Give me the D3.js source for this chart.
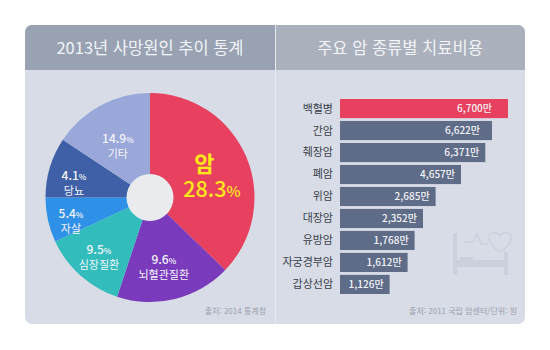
<!DOCTYPE html>
<html lang="ko">
<head>
<meta charset="utf-8">
<script src="https://cdn.jsdelivr.net/npm/d3@7"></script>
<style>
    html, body { margin: 0; padding: 0; background: #fff; }
    svg { display: block; }
    text { font-family: "Noto Sans CJK KR", "Noto Sans", sans-serif; }
</style>
</head>
<body>
<div id="chart"></div>
<script>
// Left panel: causes of death
const causes = ["암", "뇌혈관질환", "심장질환", "자살", "당뇨", "기타"];
const causeRates = ["28.3", "9.6", "9.5", "5.4", "4.1", "14.9"];
// The slices are not drawn to the printed rates, so these are the shares as read off the picture
const causeDrawnShares = [37.2, 17.9, 13.0, 6.9, 9.3, 15.7];
const causeColors = ["#e8415f", "#7a3abc", "#33bcbc", "#2f90e8", "#3f60a6", "#9aa7d9"];

// Right panel: treatment cost
const cancers = ["백혈병", "간암", "췌장암", "폐암", "위암", "대장암", "유방암", "자궁경부암", "갑상선암"];
const costLabels = ["6,700만", "6,622만", "6,371만", "4,657만", "2,685만", "2,352만", "1,768만", "1,612만", "1,126만"];
// Same here, the bars do not follow the printed amounts
const costDrawn = [6700, 6062, 5795, 4826, 3813, 3310, 2975, 2696, 1978];

const svg = d3.select("#chart")
    .append("svg")
    .attr("width", 550)
    .attr("height", 350);

// Panel background, clipped to rounded corners
svg.append("clipPath")
    .attr("id", "panel-clip")
    .append("rect")
    .attr("x", 25).attr("y", 25)
    .attr("width", 500).attr("height", 299)
    .attr("rx", 7);

const panel = svg.append("g").attr("clip-path", "url(#panel-clip)");
panel.append("rect").attr("x", 25).attr("y", 25).attr("width", 500).attr("height", 299).attr("fill", "#d8dce6");
panel.append("rect").attr("x", 25).attr("y", 25).attr("width", 250).attr("height", 45).attr("fill", "#98a2b3");
panel.append("rect").attr("x", 275).attr("y", 25).attr("width", 250).attr("height", 45).attr("fill", "#aab0bc");
panel.append("rect").attr("x", 275).attr("y", 25).attr("width", 1).attr("height", 299).attr("fill", "#e8eaf0");

svg.append("text")
    .attr("x", 150).attr("y", 54)
    .attr("text-anchor", "middle")
    .attr("font-size", 16.5)
    .attr("fill", "#f2f4f7")
    .text("2013년 사망원인 추이 통계");

svg.append("text")
    .attr("x", 400).attr("y", 54)
    .attr("text-anchor", "middle")
    .attr("font-size", 16.5)
    .attr("fill", "#f2f4f7")
    .text("주요 암 종류별 치료비용");

// Pie
const radius = 104.5;
const pieG = svg.append("g").attr("transform", "translate(150,197.5)");

const pie = d3.pie().sort(null).value(d => d);
const arcs = pie(causeDrawnShares);
const arc = d3.arc().innerRadius(0).outerRadius(radius);
const labelArc = d3.arc().innerRadius(70).outerRadius(70);

pieG.selectAll("path")
    .data(arcs)
    .enter().append("path")
    .attr("d", arc)
    .attr("fill", (d, i) => causeColors[i]);

pieG.append("circle").attr("r", 23.5).attr("fill", "#e9ebef");

// Small nudges from the slice centroid, the labels are hand placed in the original
const nudges = [[-9, 15], [-3, 0], [-4.5, 5], [-10.7, 6.7], [-9, 3.6], [1, 8]];

const labels = pieG.selectAll("g.label")
    .data(arcs)
    .enter().append("g")
    .attr("class", "label")
    .attr("text-anchor", "middle")
    .attr("transform", (d, i) => {
        const c = labelArc.centroid(d);
        return `translate(${c[0] + nudges[i][0]},${c[1] + nudges[i][1]})`;
    });

labels.each(function(d, i) {
    const g = d3.select(this);
    if (i === 0) {
        // Cancer gets the big yellow label
        g.append("text").attr("x", -1).attr("y", -13).attr("font-size", 22).attr("font-weight", 700)
            .attr("fill", "#ffe81a").text(causes[i]);
        const t = g.append("text").attr("x", 6.5).attr("y", 12).attr("font-size", 21.5).attr("font-weight", 500).attr("fill", "#ffe81a");
        t.append("tspan").text(causeRates[i]);
        t.append("tspan").attr("font-size", 15).text("%");
    } else {
        const t = g.append("text").attr("y", -1).attr("font-size", 12).attr("font-weight", 500).attr("fill", "#f4f5fb");
        t.append("tspan").text(causeRates[i]);
        t.append("tspan").attr("font-size", 8).text("%");
        g.append("text").attr("y", 14).attr("font-size", 11).attr("fill", "#f4f5fb").text(causes[i]);
    }
});

svg.append("text")
    .attr("x", 266).attr("y", 314)
    .attr("text-anchor", "end")
    .attr("font-size", 8)
    .attr("fill", "#9aa0ad")
    .text("출처: 2014 통계청");

// Bed icon behind the bars
const icon = svg.append("g").attr("fill", "#cbd0dc");
icon.append("rect").attr("x", 453).attr("y", 233).attr("width", 4).attr("height", 42);
icon.append("rect").attr("x", 504).attr("y", 252).attr("width", 4).attr("height", 23);
icon.append("rect").attr("x", 457).attr("y", 260).attr("width", 47).attr("height", 7);
icon.append("rect").attr("x", 460).attr("y", 257).attr("width", 13).attr("height", 3);
icon.append("path")
    .attr("fill", "none")
    .attr("stroke", "#cbd0dc")
    .attr("stroke-width", 1.5)
    .attr("d", "M464,242H473L477,234L481,244H488");
icon.append("path")
    .attr("fill", "none")
    .attr("stroke", "#cbd0dc")
    .attr("stroke-width", 1.5)
    .attr("d", "M500,252C494,248 489,243 489,238C489,232 497,231 500,236C503,231 511,232 511,238C511,243 506,248 500,252Z");

// Bars
const x = d3.scaleLinear().domain([0, 6700]).range([340, 508]);
const y = d3.scaleBand().domain(cancers).range([99, 294]).paddingInner(0.13);

svg.selectAll("rect.bar")
    .data(costDrawn)
    .enter().append("rect")
    .attr("class", "bar")
    .attr("x", x(0))
    .attr("y", (d, i) => y(cancers[i]))
    .attr("width", d => x(d) - x(0))
    .attr("height", y.bandwidth())
    .attr("fill", (d, i) => i === 0 ? "#e8415f" : "#5e6c88");

svg.selectAll("text.cancer")
    .data(cancers)
    .enter().append("text")
    .attr("class", "cancer")
    .attr("x", 333)
    .attr("y", d => y(d) + y.bandwidth() / 2)
    .attr("dy", "0.36em")
    .attr("text-anchor", "end")
    .attr("font-size", 11)
    .attr("fill", "#3a3f4a")
    .text(d => d);

svg.selectAll("text.cost")
    .data(costLabels)
    .enter().append("text")
    .attr("class", "cost")
    .attr("x", (d, i) => x(costDrawn[i]) - (i === 0 ? 16 : i === 1 ? 12 : 6))
    .attr("y", (d, i) => y(cancers[i]) + y.bandwidth() / 2)
    .attr("dy", "0.36em")
    .attr("text-anchor", "end")
    .attr("font-size", 10)
    .attr("font-weight", 500)
    .attr("fill", "#f2f3f7")
    .text(d => d);

svg.append("text")
    .attr("x", 517).attr("y", 314)
    .attr("text-anchor", "end")
    .attr("font-size", 8)
    .attr("fill", "#9aa0ad")
    .text("출처: 2011 국립 암센터/단위: 원");
</script>
</body>
</html>
